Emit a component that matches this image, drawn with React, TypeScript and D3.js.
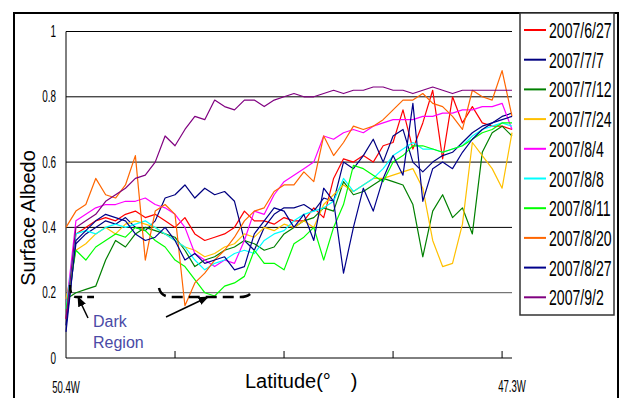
import React from 'react'
import * as d3 from 'd3'

// albedo along the traverse, 46 samples per date (index 0 = 50.4W, 45 = 47.3W)
const dates = ['2007/6/27', '2007/7/7', '2007/7/12', '2007/7/24', '2007/8/4', '2007/8/8', '2007/8/11', '2007/8/20', '2007/8/27', '2007/9/2']
const colors = ['#ff0000', '#000080', '#008000', '#ffc000', '#ff00ff', '#00ffff', '#00ff00', '#ff6600', '#00008b', '#800080']

const s0627 = [0.12, 0.38, 0.40, 0.42, 0.43, 0.42, 0.44, 0.45, 0.43, 0.44, 0.42, 0.40, 0.43, 0.38, 0.36, 0.37, 0.38, 0.40, 0.45, 0.42, 0.42, 0.41, 0.43, 0.42, 0.42, 0.46, 0.43, 0.55, 0.61, 0.60, 0.62, 0.60, 0.65, 0.66, 0.76, 0.64, 0.72, 0.82, 0.61, 0.80, 0.72, 0.77, 0.72, 0.71, 0.71, 0.70]
const s0707 = [0.10, 0.35, 0.38, 0.40, 0.42, 0.41, 0.43, 0.40, 0.39, 0.42, 0.49, 0.50, 0.53, 0.49, 0.52, 0.50, 0.51, 0.48, 0.36, 0.33, 0.40, 0.44, 0.46, 0.46, 0.47, 0.45, 0.49, 0.48, 0.60, 0.58, 0.62, 0.67, 0.60, 0.68, 0.70, 0.60, 0.57, 0.60, 0.62, 0.63, 0.66, 0.69, 0.71, 0.72, 0.74, 0.75]
const s0712 = [0.18, 0.20, 0.21, 0.22, 0.30, 0.36, 0.34, 0.38, 0.40, 0.39, 0.38, 0.37, 0.33, 0.28, 0.30, 0.31, 0.33, 0.34, 0.36, 0.35, 0.33, 0.34, 0.38, 0.40, 0.42, 0.43, 0.46, 0.45, 0.54, 0.50, 0.51, 0.53, 0.55, 0.54, 0.53, 0.47, 0.31, 0.45, 0.50, 0.43, 0.46, 0.38, 0.63, 0.69, 0.71, 0.68]
const s0724 = [0.18, 0.33, 0.35, 0.38, 0.40, 0.38, 0.41, 0.42, 0.41, 0.40, 0.38, 0.36, 0.34, 0.33, 0.31, 0.32, 0.34, 0.35, 0.38, 0.37, 0.40, 0.39, 0.41, 0.40, 0.42, 0.40, 0.47, 0.50, 0.53, 0.51, 0.53, 0.55, 0.55, 0.56, 0.57, 0.58, 0.52, 0.36, 0.28, 0.29, 0.41, 0.66, 0.62, 0.58, 0.52, 0.69]
const s0804 = [0.15, 0.42, 0.44, 0.46, 0.47, 0.47, 0.48, 0.48, 0.49, 0.47, 0.46, 0.44, 0.40, 0.32, 0.30, 0.28, 0.30, 0.29, 0.36, 0.45, 0.44, 0.50, 0.54, 0.56, 0.58, 0.60, 0.68, 0.67, 0.69, 0.70, 0.69, 0.71, 0.72, 0.73, 0.73, 0.73, 0.74, 0.74, 0.75, 0.75, 0.76, 0.76, 0.77, 0.77, 0.78, 0.70]
const s0808 = [0.15, 0.38, 0.39, 0.38, 0.40, 0.41, 0.40, 0.41, 0.42, 0.40, 0.38, 0.36, 0.34, 0.30, 0.27, 0.29, 0.30, 0.32, 0.33, 0.32, 0.36, 0.38, 0.39, 0.42, 0.44, 0.45, 0.46, 0.48, 0.55, 0.51, 0.53, 0.55, 0.58, 0.62, 0.64, 0.66, 0.64, 0.64, 0.63, 0.64, 0.65, 0.68, 0.70, 0.71, 0.72, 0.71]
const s0811 = [0.15, 0.33, 0.30, 0.34, 0.36, 0.38, 0.37, 0.40, 0.39, 0.36, 0.34, 0.30, 0.28, 0.24, 0.20, 0.19, 0.22, 0.23, 0.25, 0.33, 0.29, 0.29, 0.27, 0.35, 0.37, 0.40, 0.30, 0.40, 0.47, 0.59, 0.58, 0.56, 0.54, 0.60, 0.62, 0.65, 0.65, 0.64, 0.63, 0.64, 0.65, 0.67, 0.69, 0.70, 0.72, 0.72]
const s0820 = [0.40, 0.45, 0.47, 0.55, 0.50, 0.49, 0.53, 0.62, 0.30, 0.45, 0.47, 0.44, 0.16, 0.23, 0.26, 0.30, 0.33, 0.37, 0.42, 0.45, 0.46, 0.51, 0.53, 0.53, 0.57, 0.54, 0.68, 0.62, 0.66, 0.71, 0.70, 0.71, 0.73, 0.76, 0.79, 0.79, 0.81, 0.78, 0.77, 0.74, 0.70, 0.82, 0.80, 0.79, 0.88, 0.74]
const s0827 = [0.08, 0.36, 0.39, 0.42, 0.44, 0.43, 0.42, 0.38, 0.36, 0.37, 0.40, 0.36, 0.30, 0.32, 0.29, 0.30, 0.31, 0.27, 0.28, 0.38, 0.42, 0.46, 0.45, 0.40, 0.44, 0.36, 0.52, 0.48, 0.26, 0.40, 0.52, 0.45, 0.55, 0.62, 0.56, 0.78, 0.48, 0.58, 0.60, 0.58, 0.63, 0.67, 0.70, 0.72, 0.73, 0.74]
const s0902 = [0.12, 0.40, 0.42, 0.44, 0.48, 0.50, 0.52, 0.55, 0.56, 0.60, 0.68, 0.65, 0.70, 0.74, 0.73, 0.79, 0.77, 0.76, 0.79, 0.79, 0.77, 0.79, 0.80, 0.81, 0.80, 0.80, 0.81, 0.82, 0.81, 0.82, 0.82, 0.83, 0.83, 0.82, 0.82, 0.81, 0.82, 0.83, 0.82, 0.81, 0.82, 0.82, 0.82, 0.82, 0.82, 0.82]

const series = [s0627, s0707, s0712, s0724, s0804, s0808, s0811, s0820, s0827, s0902]
const yTicks = [0, 0.2, 0.4, 0.6, 0.8, 1]
const xTickIdx = [11, 22, 33, 44]
const xLabels = ['50.4W', '47.3W']

const narrow = 'Liberation Sans, Arial, sans-serif'

export default function App() {
  const x = d3.scaleLinear().domain([0, 45]).range([66, 512])
  const y = d3.scaleLinear().domain([0, 1]).range([358, 31.5])
  const line = d3
    .line<number>()
    .x((d, i) => x(i))
    .y((d) => y(d))

  return (
    <svg width={624} height={398} style={{position: 'absolute', left: 0, top: 0, background: '#fff'}}>
      {/* outer frame */}
      <path d="M14,398 V13 H618 V398" fill="none" stroke="#000" strokeWidth={2} />

      {/* grid */}
      {yTicks.slice(1).map((t) => (
        <line key={t} x1={66} x2={512} y1={y(t)} y2={y(t)} stroke={t === 0.2 ? '#555' : '#000'} strokeWidth={1} />
      ))}
      <line x1={66} x2={66} y1={y(1)} y2={y(0)} stroke="#000" />
      <line x1={66} x2={512} y1={y(0)} y2={y(0)} stroke="#000" />
      {xTickIdx.map((t) => (
        <line key={t} x1={x(t)} x2={x(t)} y1={y(0) - 7} y2={y(0)} stroke="#000" />
      ))}

      {/* tick labels */}
      {yTicks.map((t) => (
        <text key={t} transform={`translate(56,${y(t) + 5.5}) scale(0.62,1)`} textAnchor="end" fontFamily={narrow} fontSize={16} fill="#000">
          {t === 0 || t === 1 ? String(t) : t.toFixed(1)}
        </text>
      ))}
      <text transform={`translate(${x(0)},393) scale(0.6,1)`} textAnchor="middle" fontFamily={narrow} fontSize={16} fill="#000">
        {xLabels[0]}
      </text>
      <text transform={`translate(${x(45)},392) scale(0.6,1)`} textAnchor="middle" fontFamily={narrow} fontSize={16} fill="#000">
        {xLabels[1]}
      </text>

      {/* axis titles */}
      <text transform="translate(35,218) rotate(-90)" textAnchor="middle" fontFamily="Liberation Sans, Arial, sans-serif" fontSize={20} fill="#000">
        Surface Albedo
      </text>
      <text x={245} y={388} fontFamily="Liberation Sans, Arial, sans-serif" fontSize={20} fill="#000">
        Latitude(°　)
      </text>

      {/* series */}
      <g fill="none" strokeWidth={1.2} strokeLinejoin="round">
        {series.map((s, k) => (
          <path key={dates[k]} d={line(s) || ''} stroke={colors[k]} />
        ))}
      </g>

      {/* annotations */}
      <defs>
        <marker id="ah" viewBox="0 0 10 10" refX={9} refY={5} markerWidth={7} markerHeight={7} orient="auto">
          <path d="M0,1 L10,5 L0,9 z" fill="#000" />
        </marker>
      </defs>
      <path d="M70,285 Q70,297 76,297 H94" fill="none" stroke="#000" strokeWidth={2.5} strokeDasharray="8,5" />
      <path d="M159,288 Q161,297 172,297 H240 Q251,297 253,289" fill="none" stroke="#000" strokeWidth={2.5} strokeDasharray="11,6" />
      <line x1={88} y1={318} x2={78} y2={297} stroke="#000" strokeWidth={1.5} markerEnd="url(#ah)" />
      <line x1={166} y1={317} x2={208} y2={297} stroke="#000" strokeWidth={1.5} markerEnd="url(#ah)" />
      <text x={93} y={327} fontFamily="Liberation Sans, Arial, sans-serif" fontSize={16} fill="#4a4aa6">
        Dark
      </text>
      <text x={93} y={348} fontFamily="Liberation Sans, Arial, sans-serif" fontSize={16} fill="#4a4aa6">
        Region
      </text>

      {/* legend */}
      <rect x={520} y={13} width={94} height={302} fill="#fff" stroke="#333" strokeWidth={1.5} />
      {dates.map((d, k) => {
        const ly = 30 + k * 29.7
        return (
          <g key={d}>
            <line x1={524} x2={546} y1={ly} y2={ly} stroke={colors[k]} strokeWidth={2} />
            <text transform={`translate(549,${ly + 8}) scale(0.64,1)`} fontFamily={narrow} fontSize={22} fill="#000">
              {d}
            </text>
          </g>
        )
      })}
    </svg>
  )
}
